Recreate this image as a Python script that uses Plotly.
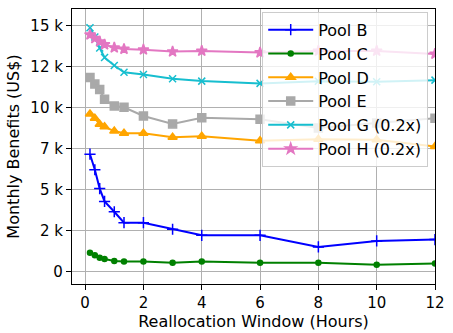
import plotly.graph_objects as go

hours = [1/6, 1/3, 0.5, 2/3, 1, 4/3, 2, 3, 4, 6, 8, 10, 12]

pool_b = [7150, 6200, 5050, 4270, 3640, 2970, 2970, 2570, 2200, 2200, 1490, 1860, 1940]
pool_c = [1130, 990, 830, 750, 640, 610, 610, 520, 610, 520, 520, 400, 480]
pool_d = [9600, 9340, 8980, 8820, 8560, 8430, 8430, 8190, 8250, 7970, 8070, 8030, 7620]
pool_e = [11830, 11430, 11100, 10500, 10090, 10010, 9480, 9000, 9380, 9280, 8750, 9050, 9340]
pool_g = [14870, 14300, 13630, 13050, 12560, 12150, 12010, 11750, 11610, 11470, 11600, 11570, 11670]
pool_h = [14440, 14220, 14020, 13840, 13650, 13570, 13530, 13410, 13450, 13350, 13450, 13450, 13270]

names = ["Pool B", "Pool C", "Pool D", "Pool E", "Pool G (0.2x)", "Pool H (0.2x)"]
colors = ["#0000ff", "#008000", "#ffa500", "#a9a9a9", "#17becf", "#e377c2"]
symbols = ["cross-thin-open", "circle", "triangle-up", "square", "x-thin-open", "star"]
sizes = [8, 5, 8, 8, 7, 8]
series = [pool_b, pool_c, pool_d, pool_e, pool_g, pool_h]

y_tickvals = [0, 2500, 5000, 7500, 10000, 12500, 15000]
y_ticktext = ["0", "2 k", "5 k", "7 k", "10 k", "12 k", "15 k"]
x_tickvals = [0, 2, 4, 6, 8, 10, 12]

fig = go.Figure()
for name, col, sym, sz, vals in zip(names, colors, symbols, sizes, series):
    fig.add_trace(go.Scatter(
        x=hours, y=vals, name=name, mode="lines+markers",
        line=dict(color=col, width=2),
        marker=dict(symbol=sym, size=sz, color=col,
                    line=dict(color=col, width=1.5)),
    ))

axis_common = dict(
    showline=True, linecolor="black", linewidth=1.2, mirror=True,
    showgrid=True, gridcolor="#b0b0b0", gridwidth=1,
    ticks="outside", ticklen=5, tickcolor="black",
    tickfont=dict(size=15, color="black"), zeroline=False,
)

fig.update_layout(
    width=453, height=333,
    margin=dict(l=72, r=11, t=8, b=48),
    paper_bgcolor="white", plot_bgcolor="white",
    font=dict(family="DejaVu Sans", color="black"),
    xaxis=dict(range=[-0.45, 12], tickvals=x_tickvals,
               title=dict(text="Reallocation Window (Hours)", font=dict(size=16), standoff=2),
               **axis_common),
    yaxis=dict(range=[-770, 16010], tickvals=y_tickvals, ticktext=y_ticktext,
               title=dict(text="Monthly Benefits (US$)", font=dict(size=16), standoff=6),
               **axis_common),
    legend=dict(x=0.524, y=0.99, xanchor="left", yanchor="top",
                bgcolor="rgba(255,255,255,0.8)", bordercolor="#cccccc", borderwidth=1,
                font=dict(size=16, color="black"), itemwidth=45),
    showlegend=True,
)

fig.write_html("out.html", config={"displayModeBar": False},
               post_script="document.body.style.margin='0';document.body.style.overflow='hidden';")
